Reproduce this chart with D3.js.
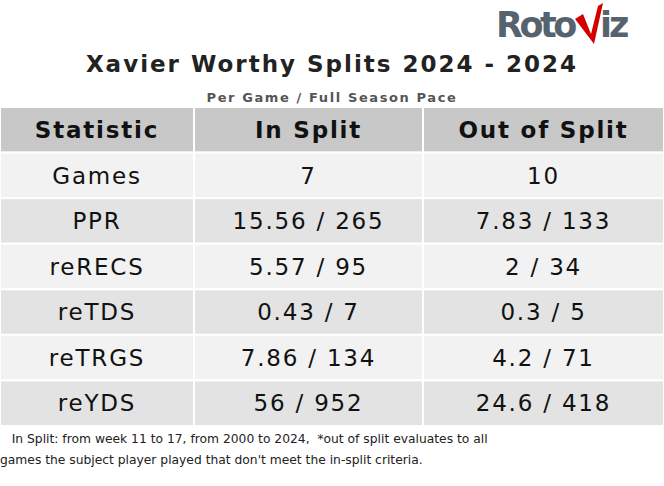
<!DOCTYPE html>
<html><head><meta charset="utf-8">
<script src="https://cdn.jsdelivr.net/npm/d3@7"></script>
<style>body{margin:0;background:#fff}svg{display:block}</style>
</head><body><svg id="chart"></svg>
<script>
const title = "Xavier Worthy Splits 2024 - 2024";
const subtitle = "Per Game / Full Season Pace";
const columns = ["Statistic", "In Split", "Out of Split"];
const stats = ["Games", "PPR", "reRECS", "reTDS", "reTRGS", "reYDS"];
const inSplit = ["7", "15.56 / 265", "5.57 / 95", "0.43 / 7", "7.86 / 134", "56 / 952"];
const outSplit = ["10", "7.83 / 133", "2 / 34", "0.3 / 5", "4.2 / 71", "24.6 / 418"];
const notes = ["   In Split: from week 11 to 17, from 2000 to 2024,  *out of split evaluates to all",
  "games the subject player played that don't meet the in-split criteria."];

const width = 664, height = 486;
const svg = d3.select("#chart").attr("width", width).attr("height", height)
  .style("font-family", "DejaVu Sans");

const colEdges = [0, 194, 423, 664];
const y = d3.scaleBand().domain(d3.range(stats.length + 1)).range([107, 426]);

// logo
const logo = svg.append("g");
logo.append("text").attr("x", 496).attr("y", 37).attr("font-size", 35).attr("font-weight", "bold")
  .attr("fill", "#56636f").attr("letter-spacing", -3.5).text("Roto");
logo.append("text").attr("x", 600).attr("y", 37).attr("font-size", 35).attr("font-weight", "bold")
  .attr("fill", "#56636f").attr("letter-spacing", -3).text("iz");
logo.append("path").attr("d", "M575,19 L583,14 L591,34 L598,6 L603,3 L594,44 Z").attr("fill", "#d40000");

svg.append("text").attr("x", width / 2).attr("y", 72).attr("text-anchor", "middle")
  .attr("font-size", 23).attr("font-weight", "bold").attr("letter-spacing", 2).attr("fill", "#222").text(title);
svg.append("text").attr("x", width / 2).attr("y", 102).attr("text-anchor", "middle")
  .attr("font-size", 13).attr("font-weight", "bold").attr("letter-spacing", 1.6).attr("fill", "#555").text(subtitle);

const rows = [columns].concat(stats.map((s, i) => [s, inSplit[i], outSplit[i]]));
rows.forEach((row, r) => {
  const fill = r === 0 ? "#c8c8c8" : (r % 2 === 1 ? "#f2f2f2" : "#e3e3e3");
  row.forEach((v, c) => {
    svg.append("rect").attr("x", colEdges[c]).attr("y", y(r))
      .attr("width", colEdges[c + 1] - colEdges[c]).attr("height", y.bandwidth())
      .attr("fill", fill).attr("stroke", "#fff").attr("stroke-width", 2);
    svg.append("text").attr("x", (colEdges[c] + colEdges[c + 1]) / 2).attr("y", y(r) + y.bandwidth() / 2)
      .attr("dy", "0.36em").attr("text-anchor", "middle").attr("font-size", 23)
      .attr("letter-spacing", 1.8)
      .attr("font-weight", r === 0 ? "bold" : "normal").attr("fill", "#111").text(v);
  });
});

notes.forEach((n, i) => {
  svg.append("text").attr("x", 0).attr("y", 443 + i * 21).attr("font-size", 12.3)
    .attr("fill", "#222").attr("xml:space", "preserve").style("white-space", "pre").text(n);
});
</script></body></html>
